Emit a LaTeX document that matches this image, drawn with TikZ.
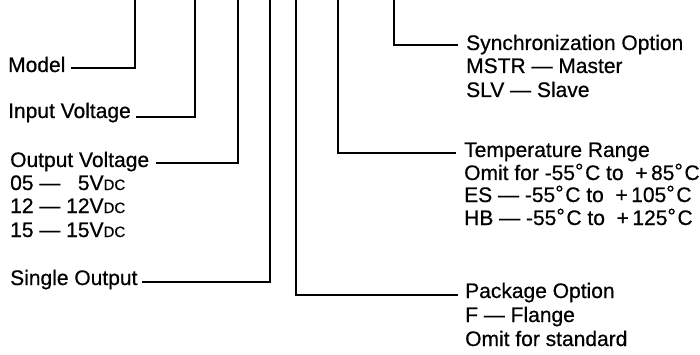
\documentclass[tikz,border=0pt]{standalone}
\usepackage{fontspec}
\setmainfont{Liberation Sans}[FakeBold=0.6]
\newcommand{\vdcx}{V{\fontsize{15}{15}\selectfont DC}}
\newcommand{\dgx}{\raisebox{0.08em}{°}\kern0.08em}
\begin{document}
\begin{tikzpicture}[x=1pt,y=-1pt,
  lbl/.style={anchor=base west,inner sep=0pt,font=\fontsize{21}{23}\selectfont},
  lead/.style={line width=1.7pt,line cap=rect}]
\useasboundingbox (0,0) rectangle (700,355);
% left labels
\node[lbl] (model) at (8,72) {Model};
\node[lbl] (inv) at (8,118) {Input Voltage};
\node[lbl] (outv) at (10,167) {Output Voltage};
\node[lbl] (o05) at (10,190) {05 — \phantom{1}5\vdcx};
\node[lbl] (o12) at (10,213) {12 — 12\vdcx};
\node[lbl] (o15) at (10,237) {15 — 15\vdcx};
\node[lbl] (single) at (10,285) {Single Output};
% right labels
\node[lbl] (sync) at (466,50) {Synchronization Option};
\node[lbl] (sync2) at (466,73) {MSTR — Master};
\node[lbl] (sync3) at (466,97) {SLV — Slave};
\node[lbl] (temp) at (464,157) {Temperature Range};
\node[lbl] (temp2) at (464,180) {Omit for -55\dgx C to\ \ +\,85\dgx C};
\node[lbl] (temp3) at (464,202) {ES — -55\dgx C to\ \ +\,105\dgx C};
\node[lbl] (temp4) at (464,225) {HB — -55\dgx C to\ \ +\,125\dgx C};
\node[lbl] (pack) at (465,298) {Package Option};
\node[lbl] (pack2) at (465,322) {F — Flange};
\node[lbl] (pack3) at (465,346) {Omit for standard};
% leader ends
\coordinate (mt) at (135,0);   \coordinate (me) at (72,68);
\coordinate (it) at (195,0);   \coordinate (ie) at (137,117);
\coordinate (ot) at (238,0);   \coordinate (oe) at (157,163);
\coordinate (st) at (270,0);   \coordinate (se) at (143,282);
\coordinate (pt) at (296,0);   \coordinate (pe) at (457,295);
\coordinate (tt) at (338,0);   \coordinate (te) at (455,153);
\coordinate (yt) at (394,0);   \coordinate (ye) at (457,45);
\draw[lead] (mt) |- (me);
\draw[lead] (it) |- (ie);
\draw[lead] (ot) |- (oe);
\draw[lead] (st) |- (se);
\draw[lead] (pt) |- (pe);
\draw[lead] (tt) |- (te);
\draw[lead] (yt) |- (ye);
\end{tikzpicture}
\end{document}
